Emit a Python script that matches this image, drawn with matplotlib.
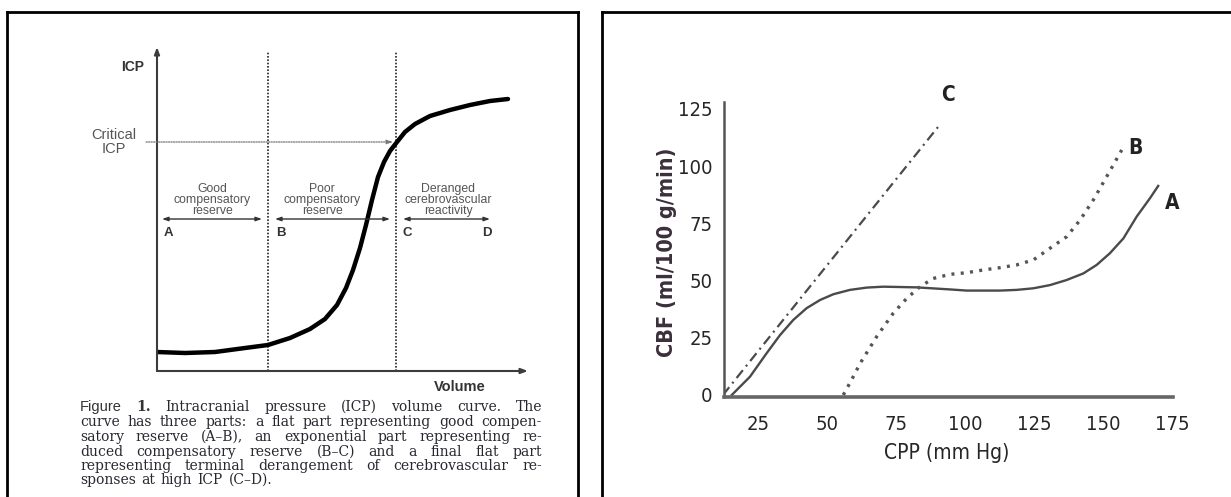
import matplotlib
matplotlib.use("Agg")
import matplotlib.pyplot as plt
from matplotlib import font_manager
from matplotlib.font_manager import FontProperties
from matplotlib.lines import Line2D

W, H = 1231, 497

# ---- left panel: ICP / volume curve (arbitrary units) ----
volume = [0, 28, 58, 88, 111, 133, 153, 168, 180, 189, 196, 203, 209, 215, 221,
          227, 233, 240, 248, 258, 273, 293, 313, 333, 351]
icp = [19, 18, 19, 23, 26, 33, 42, 52, 66, 83, 101, 123, 146, 171, 194,
       209, 220, 229, 239, 247, 255, 261, 266, 270, 272]
vol_b, vol_c = 111, 239
critical_icp = 229
zones = ["Good\ncompensatory\nreserve", "Poor\ncompensatory\nreserve",
         "Deranged\ncerebrovascular\nreactivity"]
zone_centres = [55, 165, 291]
zone_spans = [(5, 105), (118, 233), (246, 333)]
letters = ["A", "B", "C", "D"]
letter_x = [11, 124, 250, 330]
caption = [
    ["Figure", "1.", "Intracranial", "pressure", "(ICP)", "volume", "curve.", "The"],
    "curve has three parts: a flat part representing good compen-".split(),
    "satory reserve (A\u2013B), an exponential part representing re-".split(),
    "duced compensatory reserve (B\u2013C) and a final flat part".split(),
    "representing terminal derangement of cerebrovascular re-".split(),
    "sponses at high ICP (C\u2013D).".split(),
]

# ---- right panel: CBF vs CPP ----
cpp_a = [15.5, 22.1, 28.1, 33.0, 37.8, 42.6, 47.5, 52.3, 58.3, 64.4, 70.4, 82.5,
         94.6, 100.6, 106.6, 112.7, 118.7, 124.8, 130.8, 136.8, 142.9, 147.7,
         152.5, 157.4, 162.2, 167.0, 170.0]
cbf_a = [0, 8.0, 18.2, 26.2, 32.8, 37.9, 41.5, 44.0, 45.9, 46.9, 47.3, 47.0,
         46.1, 45.6, 45.6, 45.6, 45.9, 46.6, 48.0, 50.2, 53.1, 56.8,
         61.9, 68.4, 77.9, 85.9, 91.3]
cpp_b = [55.9, 58.9, 62.0, 68.0, 74.0, 78.9, 83.7, 88.5, 94.6, 100.6, 106.6,
         112.7, 118.7, 124.8, 130.8, 136.8, 141.7, 146.5, 151.3, 156.8]
cbf_b = [0, 6.6, 13.8, 25.5, 35.7, 42.2, 47.3, 50.9, 52.7, 53.4, 54.6,
         55.6, 56.8, 59.0, 64.1, 69.1, 76.4, 85.2, 95.3, 107]
cpp_c = [12.3, 90.2]
cbf_c = [0, 117]
cpp_ticks = [25, 50, 75, 100, 125, 150, 175]
cbf_ticks = [0, 25, 50, 75, 100, 125]

sans = "Liberation Sans"
serif = "DejaVu Serif"


def pick_condensed(bold):
    cands = []
    for f in font_manager.fontManager.ttflist:
        fn = f.fname.lower()
        if ("condensed" in fn or "narrow" in fn) and "sans" in fn \
                and "oblique" not in fn and "italic" not in fn and "semi" not in fn:
            if ("bold" in fn) == bold:
                cands.append(f.fname)
    cands.sort(key=lambda p: (0 if "liberation" in p.lower() else 1, p))
    return cands[0] if cands else None


cond_reg = pick_condensed(False)
cond_bold = pick_condensed(True)


def narrow_fp(size, bold=False):
    path = cond_bold if bold else cond_reg
    if path:
        return FontProperties(fname=path, size=size)
    return FontProperties(family=sans, size=size * 0.9,
                          weight="bold" if bold else "normal")


def fx(px):
    return px / W


def fy(py):
    return 1 - py / H


fig = plt.figure(figsize=(W / 100, H / 100), dpi=100)

# panel frames
for x0, x1, y0, y1 in [(7, 578, 12, 12), (7, 7, 12, 497), (578, 578, 12, 497),
                       (602, 1231, 12, 12), (602, 602, 12, 497)]:
    fig.add_artist(Line2D([fx(x0), fx(x1)], [fy(y0), fy(y1)], color="black", lw=2))

# ---------------- left panel ----------------
axl = fig.add_axes([fx(157), fy(371), fx(528 - 157), (371 - 47) / H])
axl.set_xlim(0, 371)
axl.set_ylim(0, 324)
axl.axis("off")

axis_col = "#3c3c3c"
axl.annotate("", xy=(0, 324), xytext=(0, 0),
             arrowprops=dict(arrowstyle="-|>,head_length=0.4,head_width=0.15",
                             color=axis_col, lw=1.5, shrinkA=0, shrinkB=0))
axl.annotate("", xy=(371, 0), xytext=(0, 0),
             arrowprops=dict(arrowstyle="-|>,head_length=0.4,head_width=0.15",
                             color=axis_col, lw=1.5, shrinkA=0, shrinkB=0))
for v in (vol_b, vol_c):
    axl.plot([v, v], [0, 319], color="#222222", lw=1.2, ls=(0, (1, 1)), clip_on=False)
axl.annotate("", xy=(vol_c - 3, critical_icp), xytext=(-11, critical_icp),
             arrowprops=dict(arrowstyle="-|>,head_length=0.35,head_width=0.12",
                             color="#777777", lw=0.9, ls=(0, (1, 1)),
                             shrinkA=0, shrinkB=0), annotation_clip=False)
axl.plot(volume, icp, color="black", lw=3.2, solid_capstyle="round",
         solid_joinstyle="round")

axl.text(-24, 304, "ICP", ha="center", va="center", fontsize=10,
         fontweight="bold", family=sans, color="#333333")
axl.text(-43, 229, "Critical\nICP", ha="center", va="center", fontsize=10.5,
         family=sans, color="#555555", linespacing=1.05)
for txt, cx in zip(zones, zone_centres):
    axl.text(cx, 171, txt, ha="center", va="center", fontsize=8.8,
             family=sans, color="#555555", linespacing=0.85)
for a, b in zone_spans:
    axl.annotate("", xy=(b, 152), xytext=(a, 152),
                 arrowprops=dict(arrowstyle="<|-|>,head_length=0.35,head_width=0.12",
                                 color="#333333", lw=1.0, shrinkA=0, shrinkB=0))
for lab, lx in zip(letters, letter_x):
    axl.text(lx, 138, lab, ha="center", va="center", fontsize=9.5,
             fontweight="bold", family=sans, color="#333333")
axl.text(303, -16, "Volume", ha="center", va="center", fontsize=10.5,
         fontweight="bold", family=sans, color="#333333")

# caption, justified line by line
renderer = fig.canvas.get_renderer()
cap_left, cap_right = 80, 542
line_y = [407, 422, 437, 452, 466, 480]
cap_col = "#2a2630"
for i, (words, py) in enumerate(zip(caption, line_y)):
    arts = []
    for j, w in enumerate(words):
        kw = dict(fontsize=10, family=serif, color=cap_col)
        if i == 0 and j == 0:
            kw = dict(fontsize=10.5, family=sans, color="#333333")
        elif i == 0 and j == 1:
            kw = dict(fontsize=10, family=serif, color="#333333", fontweight="bold")
        arts.append(fig.text(0, fy(py), w, va="center", ha="left", **kw))
    widths = [a.get_window_extent(renderer).width for a in arts]
    last = i == len(caption) - 1
    gap = 5.5 if last else (cap_right - cap_left - sum(widths)) / (len(arts) - 1)
    x = cap_left
    for a, w in zip(arts, widths):
        a.set_x(fx(x))
        x += w + gap

# ---------------- right panel ----------------
sx = 2.76
x_lo, x_hi = 12.5, 175.5
y_lo, y_hi = -1.0, 128.0
sy = 2.29
px_left = 689 + x_lo * sx
px_right = 689 + x_hi * sx
py_bot = 395 - y_lo * sy
py_top = 395 - y_hi * sy
axr = fig.add_axes([fx(px_left), fy(py_bot), (px_right - px_left) / W,
                    (py_bot - py_top) / H])
axr.set_xlim(x_lo, x_hi)
axr.set_ylim(y_lo, y_hi)
for s in ("top", "right"):
    axr.spines[s].set_visible(False)
axr.spines["left"].set_color("#555555")
axr.spines["left"].set_linewidth(1.8)
axr.spines["bottom"].set_color("#666666")
axr.spines["bottom"].set_linewidth(2.6)

line_col = "#4a4a4a"
axr.plot(cpp_c, cbf_c, color=line_col, lw=1.6, ls=(0, (4.5, 2.2, 0.9, 2.2)))
axr.plot(cpp_a, cbf_a, color=line_col, lw=1.7, solid_joinstyle="round")
axr.plot(cpp_b, cbf_b, color="#555555", lw=2.4, ls=(0, (0.9, 1.9)))

axr.set_xticks(cpp_ticks)
axr.set_yticks(cbf_ticks)
axr.tick_params(length=0, labelcolor="#262626")
axr.tick_params(axis="x", pad=13)
axr.tick_params(axis="y", pad=8)
for t in axr.get_xticklabels() + axr.get_yticklabels():
    t.set_fontproperties(narrow_fp(14.5))

for lab, lx, ly in [("C", 93.8, 131), ("B", 161.6, 108), ("A", 175, 84)]:
    axr.text(lx, ly, lab, ha="center", va="center", fontproperties=narrow_fp(15, True),
             color="#222222", clip_on=False)

fig.text(fx(667), fy(252), "CBF (ml/100 g/min)", rotation=90, ha="center",
         va="center", fontproperties=narrow_fp(15.5, True), color="#3a2f3a")
fig.text(fx(947), fy(453), "CPP (mm Hg)", ha="center", va="center",
         fontproperties=narrow_fp(15), color="#262626")

fig.savefig("out.png", dpi=100)
